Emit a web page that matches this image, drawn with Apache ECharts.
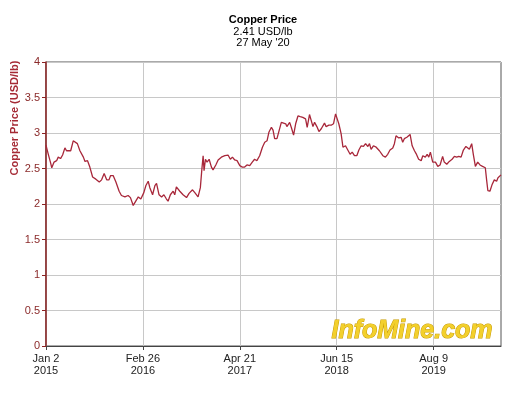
<!DOCTYPE html>
<html><head><meta charset="utf-8">
<script src="https://cdn.jsdelivr.net/npm/echarts@6/dist/echarts.min.js"></script>
<style>html,body{margin:0;padding:0;background:#fff}#c{width:526px;height:394px}</style>
</head><body><div id="c"></div>
<script>
// Days since Jan 2 2015
const days = [0,10,20,25,35,46,53,63,72,82,89,107,118,125,136,147,162,169,180,190,202,216,231,241,252,263,273,280,291,303,317,327,342,356,366,378,389,400,411,424,433,443,
450,462,472,479,490,501,511,522,529,539,551,558,565,580,594,609,620,635,645,659,669,675,681,685,691,698,707,717,724,736,746,760,775,789,799,808,818,828,840,851,861,871,883,894,904,914,926,
938,948,958,966,977,984,991,1001,1010,1020,1027,1039,1044,1056,1064,1073,1082,1092,1102,1113,1125,1132,1142,1150,1157,1164,1174,1183,1193,1207,1214,1226,1236,1246,1255,1261,1269,1279,1287,1298,1308,1318,1327,1337,1347,1356,1366,1376,1385,1395,
1402,1409,1419,1431,1445,1460,1471,1481,1491,1503,1510,1517,1529,1539,1546,1553,1564,1572,1578,1587,1597,1604,1615,1626,1633,1644,1652,1659,1666,1676,1688,1698,1708,1719,1726,1737,1748,1760,1770,1780,1789,1799,1809,1820,1827,1835,1845,1852,1861,1871,1881,1892,1904,1910,1915,1924,1933,1943,1953,1959,1972];
const prices = [2.83,2.70,2.58,2.51,2.59,2.61,2.66,2.64,2.69,2.79,2.75,2.75,2.89,2.90,2.85,2.75,2.66,2.60,2.61,2.52,2.38,2.35,2.31,2.34,2.43,2.34,2.34,2.40,2.40,2.31,2.18,2.12,2.10,2.12,2.09,1.98,2.04,2.10,2.07,2.16,2.26,2.32,
2.23,2.13,2.26,2.29,2.13,2.10,2.13,2.07,2.04,2.13,2.18,2.13,2.24,2.18,2.13,2.09,2.15,2.20,2.16,2.10,2.23,2.47,2.68,2.47,2.63,2.59,2.63,2.52,2.48,2.55,2.62,2.66,2.68,2.69,2.63,2.66,2.62,2.61,2.54,2.52,2.52,2.55,2.54,2.59,2.63,2.61,2.68,
2.80,2.87,2.89,3.01,3.08,3.04,2.92,2.92,3.03,3.15,3.13,3.13,3.09,3.15,3.07,2.97,3.13,3.24,3.23,3.22,3.20,3.08,3.26,3.17,3.09,3.15,3.09,3.02,3.06,3.14,3.09,3.11,3.11,3.13,3.27,3.29,3.13,2.99,2.80,2.82,2.76,2.70,2.73,2.68,2.68,2.76,2.82,2.81,2.85,2.81,
2.85,2.77,2.82,2.80,2.75,2.68,2.66,2.70,2.76,2.79,2.85,2.96,2.93,2.94,2.87,2.92,2.94,2.92,2.98,2.82,2.75,2.71,2.63,2.61,2.68,2.66,2.70,2.66,2.73,2.59,2.59,2.53,2.55,2.67,2.59,2.56,2.60,2.63,2.67,2.66,2.67,2.66,2.76,2.81,2.79,2.77,2.85,2.70,2.53,2.59,2.55,2.53,2.51,2.33,2.19,2.18,2.27,2.34,2.32,2.37,2.41];
const xTickDays = [0,420,840,1260,1680];
const xTickLabels = ['Jan 2\n2015','Feb 26\n2016','Apr 21\n2017','Jun 15\n2018','Aug 9\n2019'];
const xMaxDay = 1972;
const yTicks = [0,0.5,1,1.5,2,2.5,3,3.5,4];
const titleLines = ['Copper Price','2.41 USD/lb',"27 May '20"];
const yName = 'Copper Price (USD/lb)';
const watermark = 'InfoMine.com';

const chart = echarts.init(document.getElementById('c'), null, {renderer:'canvas'});
const FONT = 'Liberation Sans, Arial, sans-serif';
chart.setOption({
  backgroundColor:'#fff',
  animation:false,
  grid:{left:46,top:62,right:25,bottom:48,show:true,borderColor:'#555',borderWidth:1,backgroundColor:'#fff'},
  xAxis:{type:'value',min:0,max:xMaxDay,interval:420,
    axisLine:{lineStyle:{color:'#444',width:1}},
    axisTick:{show:true,length:4,lineStyle:{color:'#444'},customValues:xTickDays},
    axisLabel:{customValues:xTickDays,color:'#222',fontFamily:FONT,fontSize:11,lineHeight:12,margin:7,
      formatter:v=>{const i=xTickDays.indexOf(v);return i>=0?xTickLabels[i]:'';}},
    splitLine:{show:true,lineStyle:{color:'#c8c8c8',width:1}}
  },
  yAxis:{type:'value',min:0,max:4,interval:0.5,
    axisLine:{show:true,lineStyle:{color:'#8b2323',width:1.5}},
    axisTick:{show:true,length:4,lineStyle:{color:'#8b2323'}},
    axisLabel:{color:'#8b2a2a',fontFamily:FONT,fontSize:11,margin:6,formatter:v=>String(v)},
    splitLine:{show:true,lineStyle:{color:'#c8c8c8',width:1}}
  },
  series:[{type:'line',data:days.map((d,i)=>[d,prices[i]]),showSymbol:false,symbol:'none',
    lineStyle:{color:'#a8273a',width:1.3},itemStyle:{color:'#a8273a'}}],
  graphic:[
    {type:'text',left:'center',top:14,style:{text:titleLines[0],font:'bold 11px '+FONT,fill:'#000'}},
    {type:'text',left:'center',top:26,style:{text:titleLines[1],font:'11px '+FONT,fill:'#000'}},
    {type:'text',left:'center',top:37,style:{text:titleLines[2],font:'11px '+FONT,fill:'#000'}},
    {type:'text',x:15,y:118,rotation:Math.PI/2,style:{text:yName,font:'bold 11px '+FONT,fill:'#a52a35',align:'center',verticalAlign:'middle'}},
    {type:'text',x:412,y:331,z:10,style:{text:watermark,font:'italic bold 25px '+FONT,fill:'#f3d02c',stroke:'#c79a00',lineWidth:1,align:'center',verticalAlign:'middle',shadowColor:'rgba(0,0,0,0.35)',shadowBlur:2,shadowOffsetX:1,shadowOffsetY:1}}
  ]
});
</script></body></html>
